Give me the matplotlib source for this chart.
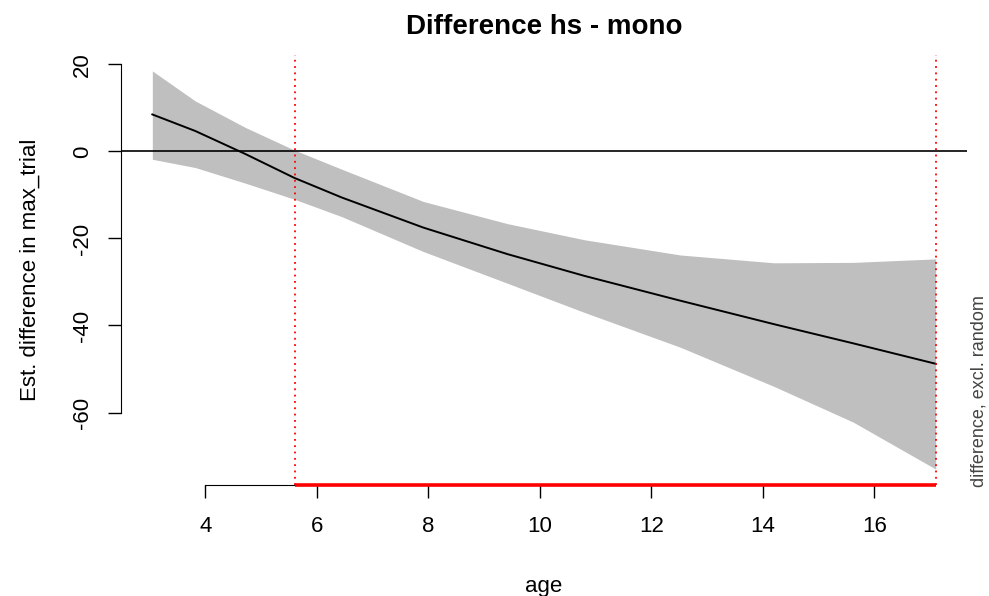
import numpy as np
import matplotlib
matplotlib.use('Agg')
import matplotlib.pyplot as plt

plt.rcParams['font.family'] = ['Liberation Sans', 'DejaVu Sans']

# estimated difference curve
age = [3.05, 3.82, 4.72, 5.6, 6.45, 7.91, 9.42, 10.8, 12.52, 14.2, 15.62, 17.1]
est = [8.5, 4.7, -0.6, -6.1, -10.6, -17.5, -23.6, -28.6, -34.3, -39.7, -44.1, -48.8]
ci_upper = [18.5, 11.6, 5.5, 0.3, -4.1, -11.5, -16.6, -20.3, -23.8, -25.6, -25.5, -24.7]
ci_lower = [-1.8, -3.7, -7.3, -11.0, -15.0, -23.0, -30.3, -37.0, -45.0, -54.0, -62.2, -73.0]

# significant region
sig_start, sig_end = 5.6, 17.1

xticks = [4, 6, 8, 10, 12, 14, 16]
yticks = [-60, -40, -20, 0, 20]

fig = plt.figure(figsize=(9.89, 5.96), dpi=100)
ax = fig.add_axes([121/989, 1 - 485/596, (967 - 121)/989, (485 - 55)/596])

ax.fill_between(age, ci_lower, ci_upper, color='#BFBFBF', lw=0)
ax.plot(age, est, color='black', lw=1.4)
ax.axhline(0, color='black', lw=1.2)
for v in (sig_start, sig_end):
    ax.axvline(v, color='red', ls=(0, (1, 2.5)), lw=1.3)

xr = max(age) - min(age)
ax.set_xlim(min(age) - 0.04 * xr, max(age) + 0.04 * xr)
yr = max(ci_upper) - min(ci_lower)
ax.set_ylim(min(ci_lower) - 0.04 * yr, max(ci_upper) + 0.04 * yr)

for s in ('top', 'right'):
    ax.spines[s].set_visible(False)
ax.spines['left'].set_bounds(-60, 20)
ax.spines['bottom'].set_bounds(4, 16)
ax.set_xticks(xticks)
ax.set_yticks(yticks)
ax.set_yticklabels([str(t) for t in yticks], rotation=90, va='center')
ax.tick_params(axis='both', length=9.5, width=1, labelsize=16)
ax.tick_params(axis='y', pad=10.5)
ax.tick_params(axis='x', pad=13)

ylo = ax.get_ylim()[0]
ax.plot([sig_start, sig_end], [ylo, ylo], color='red', lw=2.6, clip_on=False,
        solid_capstyle='butt', zorder=5)

ax.set_title('Difference hs - mono', fontsize=20, fontweight='bold', pad=15)
ax.set_xlabel('age', fontsize=16, labelpad=28)
ax.set_ylabel('Est. difference in max_trial', fontsize=16, labelpad=23)

fig.text(979/989, 1 - 487/596, 'difference, excl. random', rotation=90,
         ha='center', va='bottom', fontsize=13, color='#444444')

fig.savefig('out.png', dpi=100)
